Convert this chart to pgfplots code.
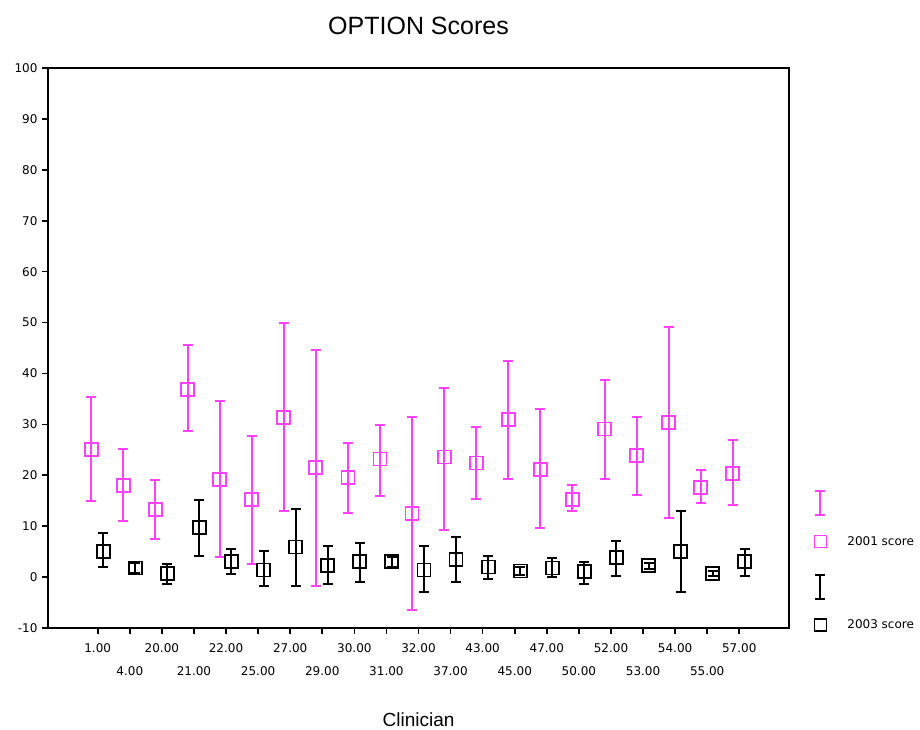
\documentclass[border=0pt]{standalone}
\usepackage{fontspec}
\setmainfont{Liberation Sans}
\newfontfamily\tickfont{DejaVu Sans}
\usepackage{pgfplots}
\usepackage{pgfplotstable}
\pgfplotsset{compat=1.18}
\definecolor{pinkc}{RGB}{255,64,255}

% x (category index), mean, plus error, minus error
\pgfplotstableread{
x y ep em
-0.2 25.1 10.2 10.2
0.8 18.0 7.1 7.0
1.8 13.3 5.8 5.9
2.8 36.9 8.7 8.3
3.8 19.2 15.3 15.3
4.8 15.3 12.5 12.7
5.8 31.4 18.5 18.5
6.8 21.6 23.1 23.3
7.8 19.6 6.7 7.1
8.8 23.2 6.6 7.2
9.8 12.5 18.9 18.9
10.8 23.6 13.6 14.3
11.8 22.4 7.0 7.1
12.8 30.9 11.5 11.7
13.8 21.2 11.8 11.5
14.8 15.3 2.7 2.4
15.8 29.1 9.7 9.9
16.8 23.9 7.5 7.8
17.8 30.3 18.8 18.6
18.8 17.6 3.5 3.1
19.8 20.4 6.6 6.3
}\pinkdata

\pgfplotstableread{
x y ep em
0.17 5.0 3.6 3.1
1.17 1.8 1.0 1.0
2.17 0.7 1.9 2.0
3.17 9.7 5.5 5.5
4.17 3.0 2.5 2.3
5.17 1.4 3.7 3.1
6.17 5.9 7.4 7.6
7.17 2.2 4.0 3.5
8.17 3.1 3.5 4.0
9.17 3.0 1.0 1.0
10.17 1.4 4.8 4.4
11.17 3.4 4.4 4.3
12.17 2.0 2.2 2.4
13.17 1.2 0.8 0.8
14.17 1.8 2.0 1.8
15.17 1.1 1.9 2.4
16.17 3.9 3.1 3.6
17.17 2.2 0.6 0.6
18.17 5.1 7.8 8.1
19.17 0.7 0.5 0.5
20.17 3.1 2.4 2.8
}\blackdata

\begin{document}
\begin{tikzpicture}
\path[use as bounding box] (-48pt,-101pt) rectangle (872pt,628pt);
\begin{axis}[
  scale only axis,
  width=741pt, height=560pt,
  xmin=-1.55, xmax=21.55,
  ymin=-10, ymax=100,
  clip=false,
  axis line style={line width=1.8pt},
  every tick/.style={line width=1.6pt, black},
  major tick length=6pt,
  tick align=outside,
  tick pos=left,
  /pgf/number format/assume math mode=true,
  ytick={-10,0,10,20,30,40,50,60,70,80,90,100},
  yticklabel style={font=\tickfont\fontsize{12}{14}\selectfont, xshift=-1pt},
  xtick={0,2,4,6,8,10,12,14,16,18,20},
  xticklabels={1.00,20.00,22.00,27.00,30.00,32.00,43.00,47.00,52.00,54.00,57.00},
  xticklabel style={font=\tickfont\fontsize{12}{14}\selectfont, yshift=-6pt},
  extra x ticks={1,3,5,7,9,11,13,15,17,19},
  extra x tick labels={4.00,21.00,25.00,29.00,31.00,37.00,45.00,50.00,53.00,55.00},
  extra x tick style={xticklabel style={yshift=-23pt}},
  title={OPTION Scores},
  title style={font=\fontsize{25}{29}\selectfont, at={(0.5,1)}, anchor=center, yshift=36pt},
  xlabel={Clinician},
  xlabel style={font=\fontsize{19}{22}\selectfont, at={(0.5,0)}, anchor=center, yshift=-92pt},
  legend style={at={(1.034,0.259)}, anchor=north west, draw=none, fill=none,
    font=\tickfont\fontsize{12}{14}\selectfont, inner sep=0pt, row sep=18pt, column sep=19pt},
  legend cell align=left,
]
\addlegendimage{legend image code/.code={
  \draw[pinkc, line width=2pt] (0.3cm,-12pt)--(0.3cm,12pt)
    (0.3cm-5pt,-12pt)--(0.3cm+5pt,-12pt) (0.3cm-5pt,12pt)--(0.3cm+5pt,12pt);
  \path (0.3cm,20pt);}}
\addlegendentry{}
\addlegendimage{only marks, pinkc, mark=square, mark size=6pt, mark options={line width=1.8pt}}
\addlegendentry{2001 score}
\addlegendimage{legend image code/.code={
  \draw[black, line width=2pt] (0.3cm,-12pt)--(0.3cm,12pt)
    (0.3cm-5pt,-12pt)--(0.3cm+5pt,-12pt) (0.3cm-5pt,12pt)--(0.3cm+5pt,12pt);
  \path (0.3cm,20pt);}}
\addlegendentry{}
\addlegendimage{only marks, black, mark=square, mark size=6pt, mark options={line width=1.8pt}}
\addlegendentry{2003 score}

\addplot[forget plot, pinkc, only marks, mark=square, mark size=6.5pt, mark options={line width=1.8pt},
  error bars/.cd, y dir=both, y explicit,
  error bar style={line width=2pt, pinkc},
  error mark options={mark size=5pt, line width=2pt, pinkc, rotate=90}]
  table[x=x, y=y, y error plus=ep, y error minus=em] {\pinkdata};
\addplot[forget plot, black, only marks, mark=square, mark size=6.5pt, mark options={line width=1.8pt},
  error bars/.cd, y dir=both, y explicit,
  error bar style={line width=2pt, black},
  error mark options={mark size=5pt, line width=2pt, black, rotate=90}]
  table[x=x, y=y, y error plus=ep, y error minus=em] {\blackdata};
\end{axis}
\end{tikzpicture}
\end{document}
